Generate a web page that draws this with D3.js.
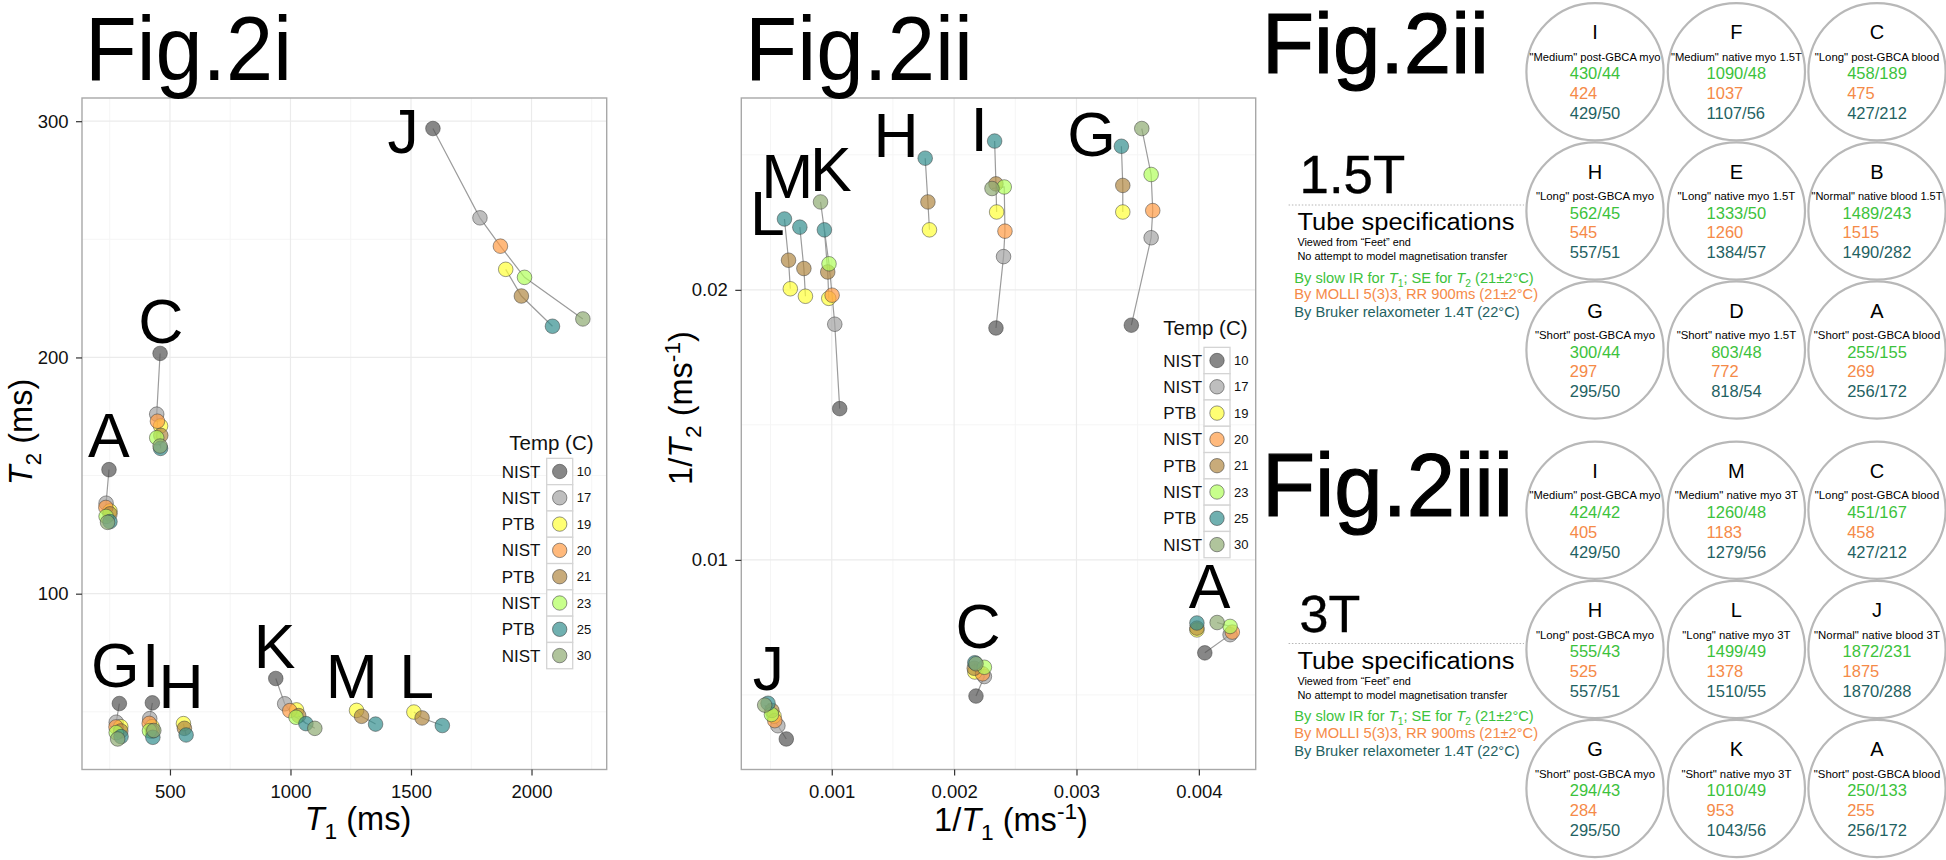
<!DOCTYPE html>
<html><head><meta charset="utf-8">
<script src="https://cdn.jsdelivr.net/npm/d3@7"></script>
<style>
body{margin:0;background:#fff}
svg{display:block}
text{font-family:"Liberation Sans",Arial,Helvetica,sans-serif}
</style>
</head><body>
<svg id="c" width="1946" height="860"></svg>
<script>
// ---------------- DATA ----------------
const temps   = [10, 17, 19, 20, 21, 23, 25, 30];
const sources = ["NIST","NIST","PTB","NIST","PTB","NIST","PTB","NIST"];
const tempColors = ["#545454","#a2a2a2","#ffff37","#ff9b45","#b08841","#b0ff5b","#338e8e","#8eab72"];
const tubes = ["A","C","G","I","H","J","K","M","L"];

// T1 (ms) and T2 (ms) per tube, one value per temperature (null = not measured)
const t1_A = [247, 235, 251, 234, 251, 235, 251, 241];
const t2_A = [152.5, 138.3, 135.0, 136.5, 133.8, 132.7, 130.5, 130.2];
const t1_C = [459, 445, 461, 448, 462, 445, 461, 459];
const t2_C = [201.7, 176.0, 171.0, 173.0, 167.0, 166.0, 161.5, 162.5];
const t1_G = [290, 277, 296, 276, 296, 277, 297, 283];
const t2_G = [53.5, 45.6, 43.7, 43.6, 41.9, 41.2, 39.5, 38.5];
const t1_I = [427, 416, 426, 414, 427, 415, 429, 433];
const t2_I = [53.8, 47.1, 43.7, 45.1, 41.8, 42.0, 39.2, 42.1];
const t1_H = [null, null, 556, null, 560, null, 567, null];
const t2_H = [null, null, 45.0, null, 43.0, null, 40.2, null];
const t1_J = [1591, 1786, 1893, 1871, 1958, 1971, 2087, 2213];
const t2_J = [296.9, 259.1, 237.3, 247.1, 226.0, 233.9, 213.2, 216.3];
const t1_K = [939, 976, 1025, 997, 1034, 1023, 1064, 1101];
const t2_K = [64.1, 53.4, 50.8, 50.5, 48.4, 47.7, 45.0, 43.0];
const t1_M = [null, null, 1274, null, 1295, null, 1353, null];
const t2_M = [null, null, 50.6, null, 48.1, null, 44.8, null];
const t1_L = [null, null, 1512, null, 1546, null, 1630, null];
const t2_L = [null, null, 49.9, null, 47.4, null, 44.2, null];

// tube label anchors (data units) for Fig.2i (T1,T2) and Fig.2ii (1/T1,1/T2)
const labelT1 = [246, 462, 273, 420, 546, 1467, 934, 1254, 1523];
const labelT2 = [157.7, 206.3, 60.4, 60.5, 51.6, 286.6, 68.7, 55.9, 55.9];
const labelR1 = [0.004087, 0.002195, 0.003124, 0.002205, 0.001525, 0.000482, 0.000993, 0.000636, 0.000473];
const labelR2 = [0.008216, 0.006738, 0.024961, 0.025146, 0.024924, 0.005198, 0.023642, 0.0234, 0.022032];

// axis ticks
const t1Ticks = [500, 1000, 1500, 2000];
const t1Minor = [250, 750, 1250, 1750, 2250];
const t2Ticks = [100, 200, 300];
const t2Minor = [50, 150, 250];
const r1Ticks = [0.001, 0.002, 0.003, 0.004];
const r1Minor = [0.0005, 0.0015, 0.0025, 0.0035];
const r2Ticks = [0.01, 0.02];
const r2Minor = [0.005, 0.015, 0.025];

// tube specification tables
const spec15Tubes  = ["I","F","C","H","E","B","G","D","A"];
const spec15Desc   = ['"Medium" post-GBCA myo','"Medium" native myo 1.5T','"Long" post-GBCA blood',
                      '"Long" post-GBCA myo','"Long" native myo 1.5T','"Normal" native blood 1.5T',
                      '"Short" post-GBCA myo','"Short" native myo 1.5T','"Short" post-GBCA blood'];
const spec15IR     = ["430/44","1090/48","458/189","562/45","1333/50","1489/243","300/44","803/48","255/155"];
const spec15Molli  = ["424","1037","475","545","1260","1515","297","772","269"];
const spec15Bruker = ["429/50","1107/56","427/212","557/51","1384/57","1490/282","295/50","818/54","256/172"];

const spec3Tubes  = ["I","M","C","H","L","J","G","K","A"];
const spec3Desc   = ['"Medium" post-GBCA myo','"Medium" native myo 3T','"Long" post-GBCA blood',
                     '"Long" post-GBCA myo','"Long" native myo 3T','"Normal" native blood 3T',
                     '"Short" post-GBCA myo','"Short" native myo 3T','"Short" post-GBCA blood'];
const spec3IR     = ["424/42","1260/48","451/167","555/43","1499/49","1872/231","294/43","1010/49","250/133"];
const spec3Molli  = ["405","1183","458","525","1378","1875","284","953","255"];
const spec3Bruker = ["429/50","1279/56","427/212","557/51","1510/55","1870/288","295/50","1043/56","256/172"];

// ---------------- BUILD TABLE ----------------
const tubeSeries = {A:[t1_A,t2_A],C:[t1_C,t2_C],G:[t1_G,t2_G],I:[t1_I,t2_I],H:[t1_H,t2_H],
                    J:[t1_J,t2_J],K:[t1_K,t2_K],M:[t1_M,t2_M],L:[t1_L,t2_L]};
const rows = [];
tubes.forEach(tb => {
  const [a, b] = tubeSeries[tb];
  temps.forEach((tp, i) => {
    if (a[i] != null) rows.push({tube: tb, temp: tp, ti: i, src: sources[i], t1: a[i], t2: b[i]});
  });
});

const svg = d3.select("#c");
const INK = "#111";
const GREEN = "#3cc23c", ORANGE = "#f58a48", TEAL = "#1f6262";

function expanded(ext) { const r = ext[1] - ext[0]; return [ext[0] - 0.05 * r, ext[1] + 0.05 * r]; }

function mathText(sel, parts, fs) {
  let cur = 0;
  parts.forEach(p => {
    const target = p.sub ? 0.28 * fs : p.sup ? -0.38 * fs : 0;
    const ts = sel.append("tspan").text(p.t).attr("dy", target - cur);
    cur = target;
    if (p.it) ts.attr("font-style", "italic");
    if (p.sub || p.sup) ts.attr("font-size", fs * 0.7);
  });
  return sel;
}

function panel(cfg) {
  const g = svg.append("g");
  const x = d3.scaleLinear().domain(expanded(d3.extent(rows, cfg.fx))).range(cfg.xr);
  const y = d3.scaleLinear().domain(expanded(d3.extent(rows, cfg.fy))).range(cfg.yr);
  // grid
  g.selectAll(".xmin").data(cfg.xMinor.filter(v => v > x.domain()[0] && v < x.domain()[1])).join("line")
    .attr("x1", d => x(d)).attr("x2", d => x(d)).attr("y1", cfg.yr[0]).attr("y2", cfg.yr[1])
    .attr("stroke", "#f5f5f5").attr("stroke-width", 1);
  g.selectAll(".ymin").data(cfg.yMinor.filter(v => v > y.domain()[0] && v < y.domain()[1])).join("line")
    .attr("y1", d => y(d)).attr("y2", d => y(d)).attr("x1", cfg.xr[0]).attr("x2", cfg.xr[1])
    .attr("stroke", "#f5f5f5").attr("stroke-width", 1);
  g.selectAll(".xmaj").data(cfg.xTicks).join("line")
    .attr("x1", d => x(d)).attr("x2", d => x(d)).attr("y1", cfg.yr[0]).attr("y2", cfg.yr[1])
    .attr("stroke", "#ebebeb").attr("stroke-width", 1.2);
  g.selectAll(".ymaj").data(cfg.yTicks).join("line")
    .attr("y1", d => y(d)).attr("y2", d => y(d)).attr("x1", cfg.xr[0]).attr("x2", cfg.xr[1])
    .attr("stroke", "#ebebeb").attr("stroke-width", 1.2);

  // legend
  const L = cfg.legend;
  g.append("text").attr("x", L.titleX).attr("y", L.titleY).attr("font-size", 20.5).attr("fill", INK).text("Temp (C)");
  temps.forEach((tp, i) => {
    const cy = L.row0 + i * 26.3;
    g.append("rect").attr("x", L.boxX).attr("y", cy - 13.15).attr("width", 26).attr("height", 26.3)
      .attr("fill", "#fff").attr("stroke", "#d4d4d4").attr("stroke-width", 1.3);
    g.append("circle").attr("cx", L.boxX + 13).attr("cy", cy).attr("r", 7.2)
      .attr("fill", tempColors[i]).attr("fill-opacity", 0.7)
      .attr("stroke", "#3a3a3a").attr("stroke-opacity", 0.55).attr("stroke-width", 1);
    g.append("text").attr("x", L.textX).attr("y", cy + 6).attr("font-size", 17).attr("fill", INK).text(sources[i]);
    g.append("text").attr("x", L.boxX + 30).attr("y", cy + 4.6).attr("font-size", 13).attr("fill", INK).text(tp);
  });

  // lines (NIST and PTB groups per tube)
  const groups = d3.groups(rows, d => d.tube, d => d.src);
  const line = d3.line().x(d => x(cfg.fx(d))).y(d => y(cfg.fy(d)));
  groups.forEach(([tb, gs]) => gs.forEach(([src, pts]) => {
    if (pts.length > 1)
      g.append("path").attr("d", line(pts.slice().sort((a, b) => a.temp - b.temp)))
        .attr("fill", "none").attr("stroke", "#9c9c9c").attr("stroke-width", 1.2);
  }));

  // points
  const ordered = rows.slice().sort((a, b) => a.temp - b.temp);
  g.selectAll(".pt").data(ordered).join("circle")
    .attr("cx", d => x(cfg.fx(d))).attr("cy", d => y(cfg.fy(d))).attr("r", 7.3)
    .attr("fill", d => tempColors[d.ti]).attr("fill-opacity", 0.7)
    .attr("stroke", "#3a3a3a").attr("stroke-opacity", 0.5).attr("stroke-width", 1);

  // tube labels
  tubes.forEach((tb, i) => {
    g.append("text").attr("x", x(cfg.lx[i])).attr("y", y(cfg.ly[i])).attr("text-anchor", "middle")
      .attr("font-size", 62.5).attr("fill", "#000").text(tb);
  });

  // border
  g.append("rect").attr("x", cfg.xr[0]).attr("y", cfg.yr[1]).attr("width", cfg.xr[1] - cfg.xr[0])
    .attr("height", cfg.yr[0] - cfg.yr[1]).attr("fill", "none").attr("stroke", "#a8a8a8").attr("stroke-width", 1.4);

  // axes
  const ax = g.append("g").attr("transform", `translate(0,${cfg.yr[0]})`)
    .call(d3.axisBottom(x).tickValues(cfg.xTicks).tickFormat(cfg.xFmt).tickSize(6).tickPadding(9));
  const ay = g.append("g").attr("transform", `translate(${cfg.xr[0]},0)`)
    .call(d3.axisLeft(y).tickValues(cfg.yTicks).tickFormat(cfg.yFmt).tickSize(6).tickPadding(7.5));
  [ax, ay].forEach(a => {
    a.select(".domain").remove();
    a.selectAll(".tick line").attr("stroke", "#333").attr("stroke-width", 1.2);
    a.selectAll(".tick text").attr("font-size", 18.5).attr("fill", INK)
      .attr("font-family", '"Liberation Sans",Arial,sans-serif');
  });

  // axis titles
  mathText(svg.append("text").attr("x", cfg.xt[0]).attr("y", cfg.xt[1]).attr("text-anchor", "middle")
    .attr("font-size", 32.5).attr("fill", "#000"), cfg.xTitle, 32.5);
  mathText(svg.append("text").attr("transform", `translate(${cfg.yt[0]},${cfg.yt[1]}) rotate(-90)`)
    .attr("text-anchor", "middle").attr("font-size", 32.5).attr("fill", "#000"), cfg.yTitle, 32.5);
}

panel({
  fx: d => d.t1, fy: d => d.t2, xr: [82, 606.7], yr: [769.5, 98],
  xTicks: t1Ticks, xMinor: t1Minor, yTicks: t2Ticks, yMinor: t2Minor,
  xFmt: d3.format("d"), yFmt: d3.format("d"),
  lx: labelT1, ly: labelT2,
  legend: {titleX: 509.3, titleY: 450, textX: 501.7, boxX: 546.7, row0: 471.5},
  xt: [358, 830], yt: [32, 432],
  xTitle: [{t:"T", it:true}, {t:"1", sub:true}, {t:" (ms)"}],
  yTitle: [{t:"T", it:true}, {t:"2", sub:true}, {t:" (ms)"}]
});

panel({
  fx: d => 1 / d.t1, fy: d => 1 / d.t2, xr: [741.3, 1255.7], yr: [769.5, 98],
  xTicks: r1Ticks, xMinor: r1Minor, yTicks: r2Ticks, yMinor: r2Minor,
  xFmt: d3.format(".3f"), yFmt: d3.format(".2f"),
  lx: labelR1, ly: labelR2,
  legend: {titleX: 1163.3, titleY: 335, textX: 1163.3, boxX: 1204, row0: 360.5},
  xt: [1011, 831], yt: [692, 408],
  xTitle: [{t:"1/"}, {t:"T", it:true}, {t:"1", sub:true}, {t:" (ms"}, {t:"-1", sup:true}, {t:")"}],
  yTitle: [{t:"1/"}, {t:"T", it:true}, {t:"2", sub:true}, {t:" (ms"}, {t:"-1", sup:true}, {t:")"}]
});

// ---------------- FIG TITLES ----------------
function bigText(x, y, fs, len, txt, extra) {
  const t = svg.append("text").attr("x", x).attr("y", y).attr("font-size", fs).attr("fill", "#000").text(txt)
    .attr("textLength", len).attr("lengthAdjust", "spacingAndGlyphs");
  if (extra) t.attr("stroke", "#000").attr("stroke-width", extra);
  return t;
}
bigText(85, 80, 90, 207, "Fig.2i");
bigText(745, 80, 90, 228, "Fig.2ii");

// ---------------- SPEC TABLES ----------------
const colX = [1595, 1736.4, 1877];
const rowY = [71.7, 211, 350];

function specBlock(b, figTxt, figFs, figLen, figY, field, fieldLen, ids, desc, ir, molli, bruker) {
  bigText(1262, figY, figFs, figLen, figTxt, 1.2);
  bigText(1299.6, 193.3 + b, field === "3T" ? 51.5 : 53.5, fieldLen, field, 0.4);
  svg.append("line").attr("x1", 1288.6).attr("x2", 1524).attr("y1", 205 + b).attr("y2", 205 + b)
    .attr("stroke", "#b5b5b5").attr("stroke-width", 1).attr("stroke-dasharray", "1.5,1.8");
  const small = (x, y, fs, len, fill) => svg.append("text").attr("x", x).attr("y", y).attr("font-size", fs)
    .attr("fill", fill).attr("textLength", len).attr("lengthAdjust", "spacingAndGlyphs");
  small(1297.4, 230 + b, 23.5, 217, "#000").text("Tube specifications");
  small(1297.4, 246 + b, 11, 113.5, "#000").text("Viewed from \u201cFeet\u201d end");
  small(1297.4, 260 + b, 11, 210, "#000").text("No attempt to model magnetisation transfer");
  mathText(small(1294.3, 282.7 + b, 14.5, 239.4, GREEN),
    [{t:"By slow IR for "}, {t:"T", it:true}, {t:"1", sub:true}, {t:"; SE for "}, {t:"T", it:true}, {t:"2", sub:true}, {t:" (21\u00b12\u00b0C)"}], 14.5);
  small(1294.3, 299.3 + b, 14.5, 243.8, ORANGE).text("By MOLLI 5(3)3, RR 900ms (21\u00b12\u00b0C)");
  small(1294.3, 317.3 + b, 14.5, 225.3, TEAL).text("By Bruker relaxometer 1.4T (22\u00b0C)");

  ids.forEach((id, i) => {
    const cx = colX[i % 3], cy = rowY[Math.floor(i / 3)] + b;
    svg.append("circle").attr("cx", cx).attr("cy", cy).attr("r", 68.6)
      .attr("fill", "none").attr("stroke", "#b8b8b8").attr("stroke-width", 2.2);
    svg.append("text").attr("x", cx).attr("y", cy - 32.4).attr("text-anchor", "middle")
      .attr("font-size", 20).attr("fill", "#000").text(id);
    const d = svg.append("text").attr("x", cx).attr("y", cy - 10.8).attr("text-anchor", "middle")
      .attr("font-size", 11.4).attr("fill", "#000").text(desc[i]);
    if (d.node().getComputedTextLength() > 131) d.attr("textLength", 131).attr("lengthAdjust", "spacingAndGlyphs");
    const g1 = svg.append("text").attr("x", cx).attr("y", cy + 7.6).attr("text-anchor", "middle")
      .attr("font-size", 16.5).attr("fill", GREEN).text(ir[i]);
    const x0 = g1.node().getBBox().x;
    svg.append("text").attr("x", x0).attr("y", cy + 27.3).attr("font-size", 16.5).attr("fill", ORANGE).text(molli[i]);
    svg.append("text").attr("x", x0).attr("y", cy + 47.3).attr("font-size", 16.5).attr("fill", TEAL).text(bruker[i]);
  });
}
specBlock(0, "Fig.2ii", 86, 227, 73.3, "1.5T", 105.6, spec15Tubes, spec15Desc, spec15IR, spec15Molli, spec15Bruker);
specBlock(438.5, "Fig.2iii", 89, 251, 516, "3T", 60.7, spec3Tubes, spec3Desc, spec3IR, spec3Molli, spec3Bruker);
</script>
</body></html>
